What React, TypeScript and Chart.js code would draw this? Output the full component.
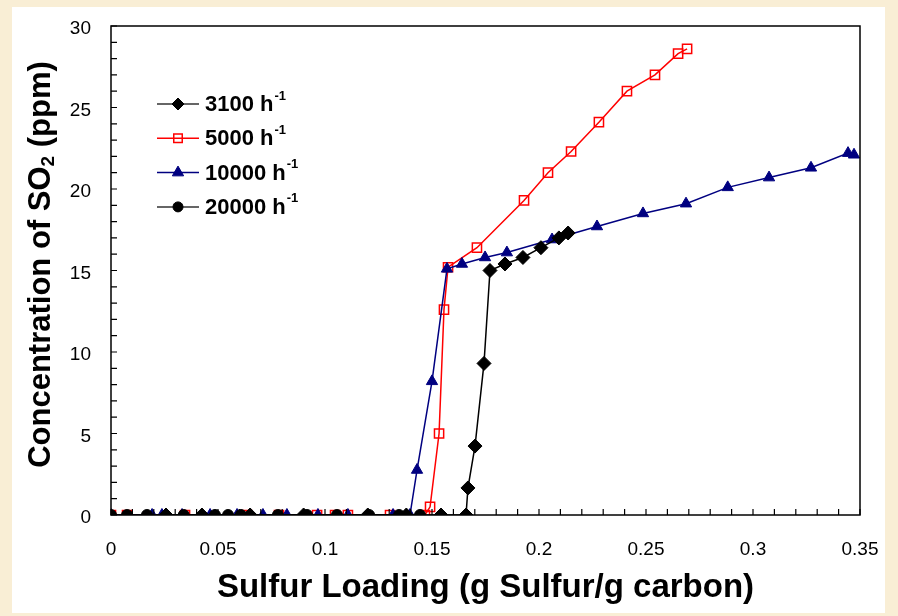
import React, { useEffect, useRef } from "react";
import { Chart, registerables } from "chart.js";

Chart.register(...registerables);

// ---------- data ----------
const xTickLabels = ["0", "0.05", "0.1", "0.15", "0.2", "0.25", "0.3", "0.35"];
const yTickLabels = ["0", "5", "10", "15", "20", "25", "30"];
const seriesNames = ["3100 h", "5000 h", "10000 h", "20000 h"];

const s3100X = [0.0257, 0.0425, 0.065, 0.09, 0.12, 0.138, 0.1542, 0.1659, 0.1668, 0.1701, 0.1743, 0.1771, 0.1841, 0.1925, 0.2009, 0.2093, 0.2136];
const s3100Y = [0, 0, 0, 0, 0, 0, 0, 0, 1.66, 4.23, 9.3, 15.0, 15.4, 15.8, 16.4, 17.0, 17.3];

const s5000X = [0, 0.0075, 0.0346, 0.0636, 0.0785, 0.0963, 0.1047, 0.1107, 0.1304, 0.1467, 0.1491, 0.1533, 0.1556, 0.1575, 0.171, 0.193, 0.2042, 0.215, 0.228, 0.2411, 0.2542, 0.265, 0.2692];
const s5000Y = [0, 0, 0, 0, 0, 0, 0, 0, 0, 0, 0.5, 5.0, 12.6, 15.2, 16.4, 19.3, 21.0, 22.3, 24.1, 26.0, 27.0, 28.3, 28.6];

const s10000X = [0, 0.0192, 0.0238, 0.0332, 0.0463, 0.0589, 0.071, 0.0822, 0.0967, 0.1107, 0.1318, 0.1397, 0.143, 0.15, 0.157, 0.164, 0.1748, 0.185, 0.2061, 0.2271, 0.2486, 0.2687, 0.2882, 0.3075, 0.3271, 0.3444, 0.3472];
const s10000Y = [0, 0, 0, 0, 0, 0, 0, 0, 0, 0, 0, 0, 2.76, 8.2, 15.1, 15.4, 15.8, 16.1, 16.9, 17.7, 18.5, 19.1, 20.1, 20.7, 21.3, 22.2, 22.1];

const s20000X = [0, 0.0075, 0.0168, 0.034, 0.0486, 0.0547, 0.0607, 0.078, 0.0916, 0.1056, 0.1206, 0.1346, 0.1444];
const s20000Y = [0, 0, 0, 0, 0, 0, 0, 0, 0, 0, 0, 0, 0];

const xMin = 0, xMax = 0.35, xMinorStep = 0.01, xMajorStep = 0.05;
const yMin = 0, yMax = 30, yMinorStep = 1, yMajorStep = 5;

const FONT = "'Liberation Sans', Arial, Helvetica, sans-serif";

const pts = (xs: number[], ys: number[]) => xs.map((x, i) => ({ x, y: ys[i] }));

function drawMarker(ctx: CanvasRenderingContext2D, style: string, x: number, y: number, r: number, fill: string, stroke: string, lw: number) {
  ctx.save();
  ctx.beginPath();
  if (style === "rectRot") {
    ctx.moveTo(x, y - r); ctx.lineTo(x + r, y); ctx.lineTo(x, y + r); ctx.lineTo(x - r, y); ctx.closePath();
  } else if (style === "rect") {
    const s = Math.SQRT1_2 * r;
    ctx.rect(x - s, y - s, 2 * s, 2 * s);
  } else if (style === "triangle") {
    const w = r * Math.sqrt(3) / 2;
    ctx.moveTo(x, y - r); ctx.lineTo(x + w, y + r / 2); ctx.lineTo(x - w, y + r / 2); ctx.closePath();
  } else {
    ctx.arc(x, y, r, 0, Math.PI * 2);
  }
  if (fill && fill !== "transparent") { ctx.fillStyle = fill; ctx.fill(); }
  ctx.lineWidth = lw; ctx.strokeStyle = stroke; ctx.stroke();
  ctx.restore();
}

const bgPlugin = {
  id: "bgPlugin",
  beforeDraw(chart: any) {
    const { ctx, width, height } = chart;
    ctx.save();
    ctx.fillStyle = "#f9eed5";
    ctx.fillRect(0, 0, width, height);
    ctx.fillStyle = "#ffffff";
    ctx.fillRect(12, 7, 873, 606);
    ctx.restore();
  },
};

const framePlugin = {
  id: "framePlugin",
  afterDatasetsDraw(chart: any) {
    const { ctx, chartArea } = chart;
    const { left, right, top, bottom } = chartArea;
    const xs = chart.scales.x, ys = chart.scales.y;
    ctx.save();
    ctx.strokeStyle = "#000";
    ctx.lineWidth = 1.5;
    ctx.strokeRect(left, top, right - left, bottom - top);
    ctx.lineWidth = 1.2;
    ctx.beginPath();
    const nx = Math.round((xMax - xMin) / xMinorStep);
    for (let i = 0; i <= nx; i++) {
      const px = xs.getPixelForValue(xMin + i * xMinorStep);
      ctx.moveTo(px, bottom); ctx.lineTo(px, bottom - 6);
    }
    const ny = Math.round((yMax - yMin) / yMinorStep);
    for (let i = 0; i <= ny; i++) {
      const py = ys.getPixelForValue(yMin + i * yMinorStep);
      ctx.moveTo(left, py); ctx.lineTo(left + 6, py);
    }
    ctx.stroke();

    // y axis title with subscript
    ctx.translate(50, (top + bottom) / 2 - 6);
    ctx.rotate(-Math.PI / 2);
    ctx.fillStyle = "#000";
    ctx.textBaseline = "alphabetic";
    ctx.textAlign = "left";
    const big = `bold 31px ${FONT}`, small = `bold 19px ${FONT}`;
    const p1 = "Concentration of SO", p2 = "2", p3 = " (ppm)";
    ctx.font = big; const w1 = ctx.measureText(p1).width; const w3 = ctx.measureText(p3).width;
    ctx.font = small; const w2 = ctx.measureText(p2).width;
    const total = w1 + w2 + w3;
    let cx = -total / 2;
    ctx.font = big; ctx.fillText(p1, cx, 0); cx += w1;
    ctx.font = small; ctx.fillText(p2, cx, 4); cx += w2;
    ctx.font = big; ctx.fillText(p3, cx, 0);
    ctx.restore();
  },
  afterDraw(chart: any) {
    // legend
    const { ctx, chartArea } = chart;
    const ds = chart.data.datasets;
    ctx.save();
    for (let i = 0; i < ds.length; i++) {
      const d = ds[i];
      const y = chartArea.top + 78 + i * 34.3;
      const x0 = chartArea.left + 46, x1 = chartArea.left + 88;
      ctx.strokeStyle = d.legendLine || d.borderColor;
      ctx.lineWidth = 1.5;
      ctx.beginPath(); ctx.moveTo(x0, y); ctx.lineTo(x1, y); ctx.stroke();
      drawMarker(ctx, d.pointStyle, (x0 + x1) / 2, y, d.legendRadius, d.pointBackgroundColor, d.pointBorderColor, d.pointBorderWidth);
      ctx.fillStyle = "#000";
      ctx.textBaseline = "middle";
      ctx.textAlign = "left";
      ctx.font = `bold 22px ${FONT}`;
      const tx = chartArea.left + 94;
      ctx.fillText(seriesNames[i], tx, y + 1);
      const w = ctx.measureText(seriesNames[i]).width;
      ctx.font = `bold 13px ${FONT}`;
      ctx.fillText("-1", tx + w + 1, y - 8);
    }
    ctx.restore();
  },
};

export default function App() {
  const ref = useRef<HTMLCanvasElement | null>(null);
  useEffect(() => {
    if (!ref.current) return;
    const chart = new Chart(ref.current, {
      type: "scatter",
      data: {
        datasets: [
          {
            label: seriesNames[0], data: pts(s3100X, s3100Y), showLine: true,
            borderColor: "#000", borderWidth: 1.5, pointStyle: "rectRot", pointRadius: 7, pointHoverRadius: 7,
            pointBackgroundColor: "#000", pointBorderColor: "#000", pointBorderWidth: 1, order: 2,
            legendRadius: 6, legendLine: "#333",
          } as any,
          {
            label: seriesNames[1], data: pts(s5000X, s5000Y), showLine: true,
            borderColor: "#ff0000", borderWidth: 1.5, pointStyle: "rect", pointRadius: 6.5, pointHoverRadius: 6.5,
            pointBackgroundColor: "transparent", pointBorderColor: "#ff0000", pointBorderWidth: 1.5, order: 4,
            legendRadius: 6,
          } as any,
          {
            label: seriesNames[2], data: pts(s10000X, s10000Y), showLine: true,
            borderColor: "#000080", borderWidth: 1.5, pointStyle: "triangle", pointRadius: 6.5, pointHoverRadius: 6.5,
            pointBackgroundColor: "#000080", pointBorderColor: "#000080", pointBorderWidth: 1, order: 3,
            legendRadius: 6.5,
          } as any,
          {
            label: seriesNames[3], data: pts(s20000X, s20000Y), showLine: true,
            borderColor: "#000", borderWidth: 1.5, pointStyle: "circle", pointRadius: 5.5, pointHoverRadius: 5.5,
            pointBackgroundColor: "#000", pointBorderColor: "#000", pointBorderWidth: 1, order: 1,
            legendRadius: 5, legendLine: "#333",
          } as any,
        ],
      },
      options: {
        animation: false,
        responsive: false,
        devicePixelRatio: 1,
        layout: { padding: { left: 12, right: 38, top: 26, bottom: 0 } },
        plugins: { legend: { display: false }, tooltip: { enabled: false } },
        scales: {
          x: {
            type: "linear", min: xMin, max: xMax, position: "bottom",
            grid: { display: false, drawTicks: false },
            border: { display: false },
            afterBuildTicks: (s: any) => { s.ticks = xTickLabels.map((t) => ({ value: parseFloat(t) })); },
            afterFit: (s: any) => { s.height = 101; s.paddingLeft = 0; s.paddingRight = 0; },
            ticks: {
              stepSize: xMajorStep, autoSkip: false, maxRotation: 0, padding: 23,
              color: "#000", font: { family: FONT, size: 19 },
              callback: (v: any) => String(parseFloat(Number(v).toFixed(2))),
            },
            title: {
              display: true, text: "Sulfur Loading (g Sulfur/g carbon)", color: "#000",
              font: { family: FONT, size: 33, weight: "bold" }, padding: { top: 0, bottom: 8 },
            },
          },
          y: {
            type: "linear", min: yMin, max: yMax, position: "left",
            grid: { display: false, drawTicks: false },
            border: { display: false },
            afterBuildTicks: (s: any) => { s.ticks = yTickLabels.map((t) => ({ value: parseFloat(t) })); },
            afterFit: (s: any) => { s.width = 99; s.paddingTop = 0; s.paddingBottom = 0; },
            ticks: {
              stepSize: yMajorStep, padding: 20, labelOffset: 3,
              color: "#000", font: { family: FONT, size: 19 },
            },
          },
        },
      } as any,
      plugins: [bgPlugin, framePlugin],
    });
    return () => chart.destroy();
  }, []);
  return (
    <div style={{ position: "fixed", left: 0, top: 0, width: 898, height: 616, background: "#f9eed5" }}>
      <canvas ref={ref} width={898} height={616} style={{ display: "block", width: 898, height: 616 }} />
    </div>
  );
}
